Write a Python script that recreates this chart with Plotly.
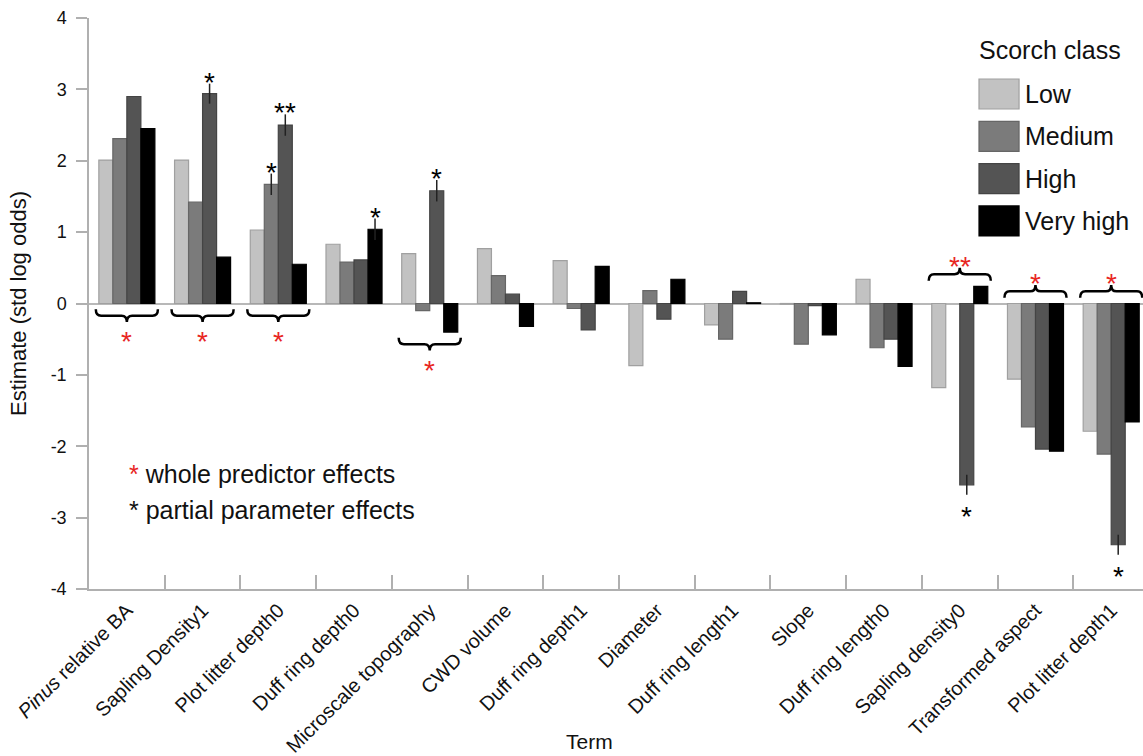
import plotly.graph_objects as go

# ---------------- data ----------------
terms = ["Pinus relative BA", "Sapling Density1", "Plot litter depth0", "Duff ring depth0",
         "Microscale topography", "CWD volume", "Duff ring depth1", "Diameter",
         "Duff ring length1", "Slope", "Duff ring length0", "Sapling density0",
         "Transformed aspect", "Plot litter depth1"]
tick_labels = ["<i>Pinus</i> relative BA", "Sapling Density1", "Plot litter depth0", "Duff ring depth0",
               "Microscale topography", "CWD volume", "Duff ring depth1", "Diameter",
               "Duff ring length1", "Slope", "Duff ring length0", "Sapling density0",
               "Transformed aspect", "Plot litter depth1"]

series_names = ["Low", "Medium", "High", "Very high"]
low = [2.01, 2.01, 1.03, 0.83, 0.70, 0.77, 0.60, -0.87, -0.30, -0.01, 0.34, -1.18, -1.06, -1.79]
medium = [2.31, 1.42, 1.67, 0.58, -0.10, 0.39, -0.07, 0.18, -0.50, -0.57, -0.62, None, -1.73, -2.11]
high = [2.90, 2.94, 2.50, 0.61, 1.58, 0.13, -0.37, -0.22, 0.17, -0.03, -0.50, -2.54, -2.04, -3.38]
very_high = [2.45, 0.65, 0.55, 1.04, -0.40, -0.32, 0.52, 0.34, 0.01, -0.44, -0.88, 0.24, -2.07, -1.66]

err_low = [0] * 14
err_medium = [0, 0, 0.15, 0, 0, 0, 0, 0, 0, 0, 0, 0, 0, 0]
err_high = [0, 0.14, 0.15, 0, 0.15, 0, 0, 0, 0, 0, 0, 0.14, 0, 0.14]
err_very_high = [0, 0, 0, 0.15, 0, 0, 0, 0, 0, 0, 0, 0, 0, 0]

# partial parameter effects: (term index, series index, label)
partial_sig = [(1, 2, "*"), (2, 1, "*"), (2, 2, "**"), (3, 3, "*"), (4, 2, "*"),
               (11, 2, "*"), (13, 2, "*")]
# whole predictor effects: term index -> label
whole_sig = {0: "*", 1: "*", 2: "*", 4: "*", 11: "**", 12: "*", 13: "*"}

y_ticks = [-4, -3, -2, -1, 0, 1, 2, 3, 4]
y_tick_text = ["-4", "-3", "-2", "-1", "0", "1", "2", "3", "4"]

# ---------------- style ----------------
fills = ["#c2c2c2", "#7b7b7b", "#545454", "#000000"]
outlines = ["#a0a0a0", "#666666", "#444444", "#000000"]
FONT = "Liberation Sans, Arial, Helvetica, sans-serif"
RED = "#e8261f"
TXT = "#111111"
STAR = 28

values = [low, medium, high, very_high]
errors = [err_low, err_medium, err_high, err_very_high]

fig = go.Figure()
for name, vals, errs, fc, lc in zip(series_names, values, errors, fills, outlines):
    fig.add_trace(go.Bar(
        x=terms, y=vals, name=name,
        marker=dict(color=fc, line=dict(color=lc, width=1.2)),
        error_y=dict(type="data", array=errs, visible=True, width=0,
                     thickness=1.5, color="#222222"),
        showlegend=False,
    ))

BARGAP = 0.26
group_w = 1 - BARGAP
bar_w = group_w / 4
offsets = [-group_w / 2 + bar_w * (i + 0.5) for i in range(4)]

annotations = []
shapes = []

# black asterisks (partial parameter effects)
for ti, si, lab in partial_sig:
    v = values[si][ti]
    e = errors[si][ti]
    xpos = ti + offsets[si]
    if v >= 0:
        annotations.append(dict(x=xpos, y=v + e, xref="x", yref="y", text=lab,
                                showarrow=False, yanchor="bottom", yshift=-16,
                                font=dict(family=FONT, size=STAR, color="black")))
    else:
        annotations.append(dict(x=xpos, y=v - e, xref="x", yref="y", text=lab,
                                showarrow=False, yanchor="top", yshift=-4,
                                font=dict(family=FONT, size=STAR, color="black")))


def brace_path(xc, yc, s, w=0.41, h=0.09, c=0.07):
    # s = -1: tip pointing down (ends curl up); s = +1: tip pointing up
    pts = [
        f"M {xc - w} {yc - s * h}",
        f"Q {xc - w} {yc} {xc - w + c} {yc}",
        f"L {xc - c} {yc}",
        f"Q {xc} {yc} {xc} {yc + s * h}",
        f"Q {xc} {yc} {xc + c} {yc}",
        f"L {xc + w - c} {yc}",
        f"Q {xc + w} {yc} {xc + w} {yc - s * h}",
    ]
    return " ".join(pts)


for ti, lab in whole_sig.items():
    vals = [values[s][ti] for s in range(4) if values[s][ti] is not None]
    if sum(vals) > 0:
        yc = min(0, min(vals)) - 0.17
        s = -1
        ystar = yc - 0.12
        yanchor = "top"
        ysh = 0
    else:
        yc = max(0, max(vals)) + 0.17
        s = 1
        ystar = yc + 0.10
        yanchor = "bottom"
        ysh = -17
    shapes.append(dict(type="path", xref="x", yref="y", path=brace_path(ti, yc, s),
                       line=dict(color="black", width=2.5)))
    annotations.append(dict(x=ti, y=ystar, xref="x", yref="y", text=lab, showarrow=False,
                            yanchor=yanchor, yshift=ysh,
                            font=dict(family=FONT, size=STAR, color=RED)))

# custom legend
annotations.append(dict(x=0.8425, y=0.944, xref="paper", yref="paper", text="Scorch class",
                        showarrow=False, xanchor="left", yanchor="middle",
                        font=dict(family=FONT, size=25, color=TXT)))
for i, (name, fc, lc) in enumerate(zip(series_names, fills, outlines)):
    top_px = 79 + 42.3 * i
    y_top = (589 - top_px) / 571
    y_bot = (589 - top_px - 30) / 571
    shapes.append(dict(type="rect", xref="paper", yref="paper", x0=0.8444, x1=0.8824,
                       y0=y_bot, y1=y_top, fillcolor=fc, line=dict(color=lc, width=1.2)))
    annotations.append(dict(x=0.8865, y=(y_top + y_bot) / 2, xref="paper", yref="paper",
                            text=name, showarrow=False, xanchor="left", yanchor="middle",
                            font=dict(family=FONT, size=25, color=TXT)))

# significance key
annotations.append(dict(x=0.036, y=(589 - 474) / 571, xref="paper", yref="paper",
                        text=f"<span style='color:{RED}'>*</span> whole predictor effects",
                        showarrow=False, xanchor="left", yanchor="middle",
                        font=dict(family=FONT, size=25, color=TXT)))
annotations.append(dict(x=0.036, y=(589 - 510) / 571, xref="paper", yref="paper",
                        text="* partial parameter effects",
                        showarrow=False, xanchor="left", yanchor="middle",
                        font=dict(family=FONT, size=25, color=TXT)))

# x-axis title
annotations.append(dict(x=0.475, y=(589 - 741) / 571, xref="paper", yref="paper", text="Term",
                        showarrow=False, xanchor="center", yanchor="middle",
                        font=dict(family=FONT, size=21, color=TXT)))

fig.update_layout(
    width=1143, height=756,
    margin=dict(l=89, r=0, t=18, b=167),
    barmode="group", bargap=BARGAP, bargroupgap=0,
    plot_bgcolor="white", paper_bgcolor="white",
    font=dict(family=FONT, size=18, color=TXT),
    annotations=annotations, shapes=shapes,
    xaxis=dict(type="category", range=[-0.5, 13.42], tickson="boundaries",
               ticks="inside", ticklen=14, tickcolor="#b0b0b0", tickwidth=1.5,
               showline=True, linecolor="#b0b0b0", linewidth=1.5,
               tickmode="array", tickvals=terms, ticktext=tick_labels,
               tickangle=-45, tickfont=dict(family=FONT, size=20, color=TXT),
               showgrid=False, automargin=False),
    yaxis=dict(range=[-4, 4], tickmode="array", tickvals=y_ticks, ticktext=y_tick_text,
               ticks="outside", ticklen=11, tickcolor="#b0b0b0", tickwidth=1.5,
               ticklabelstandoff=6,
               showline=True, linecolor="#b0b0b0", linewidth=1.5,
               zeroline=True, zerolinecolor="#b8b8b8", zerolinewidth=1.5,
               showgrid=False, tickfont=dict(family=FONT, size=18, color=TXT),
               automargin=False,
               title=dict(text="Estimate (std log odds)", standoff=18,
                          font=dict(family=FONT, size=22, color=TXT))),
)

fig.write_html("out.html")
